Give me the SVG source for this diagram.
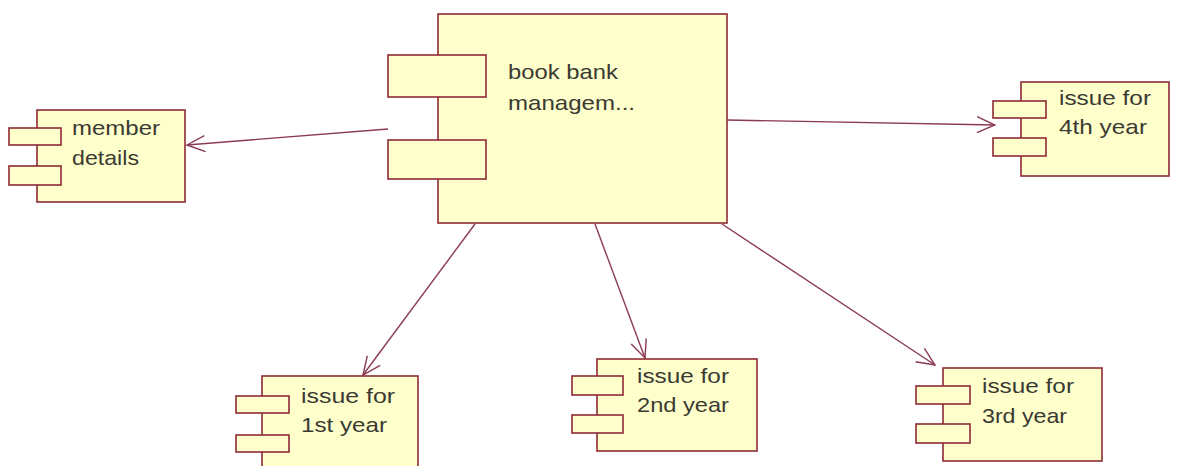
<svg xmlns="http://www.w3.org/2000/svg" width="1180" height="466" viewBox="0 0 1180 466">
  <style>
    .box { fill: #ffffcc; stroke: #8e2a36; stroke-width: 1.6; }
    .port { fill: #ffffcc; stroke: #8e2a36; stroke-width: 1.6; }
    .label { font-family: "Liberation Sans", Arial, sans-serif; font-size: 21px; fill: #3a3a32; }
    .edge { fill: none; stroke: #8a3a52; stroke-width: 1.4; }
    .head { fill: none; stroke: #8a3a52; stroke-width: 1.4; }
  </style>
  <defs>
    <marker id="open-arrow" viewBox="0 0 20 20" refX="19" refY="10" markerWidth="20" markerHeight="20" markerUnits="userSpaceOnUse" orient="auto">
      <path class="head" d="M1,2 L19,10 L1,18"/>
    </marker>
  </defs>
  <rect width="1180" height="466" fill="#ffffff"/>

  <g id="connectors">
    <line class="edge" x1="388" y1="129" x2="187" y2="145" marker-end="url(#open-arrow)"/>
    <line class="edge" x1="727" y1="120" x2="995" y2="125" marker-end="url(#open-arrow)"/>
    <line class="edge" x1="475" y1="224" x2="363" y2="375" marker-end="url(#open-arrow)"/>
    <line class="edge" x1="595" y1="224" x2="645" y2="358" marker-end="url(#open-arrow)"/>
    <line class="edge" x1="722" y1="224" x2="935" y2="365" marker-end="url(#open-arrow)"/>
  </g>

  <g id="book-bank-management">
    <rect class="box" x="438" y="14" width="289" height="209"/>
    <rect class="port" x="388" y="55" width="98" height="42"/>
    <rect class="port" x="388" y="140" width="98" height="39"/>
    <text class="label" x="508" y="79" textLength="110" lengthAdjust="spacingAndGlyphs">book bank</text>
    <text class="label" x="508" y="110" textLength="127" lengthAdjust="spacingAndGlyphs">managem...</text>
  </g>

  <g id="member-details">
    <rect class="box" x="37" y="110" width="148" height="92"/>
    <rect class="port" x="9" y="128" width="52" height="17"/>
    <rect class="port" x="9" y="166" width="52" height="19"/>
    <text class="label" x="72" y="135" textLength="88" lengthAdjust="spacingAndGlyphs">member</text>
    <text class="label" x="72" y="165" textLength="67" lengthAdjust="spacingAndGlyphs">details</text>
  </g>

  <g id="issue-4th-year">
    <rect class="box" x="1021" y="82" width="148" height="94"/>
    <rect class="port" x="993" y="101" width="53" height="17"/>
    <rect class="port" x="993" y="138" width="53" height="18"/>
    <text class="label" x="1059" y="105" textLength="92" lengthAdjust="spacingAndGlyphs">issue for</text>
    <text class="label" x="1059" y="134" textLength="88" lengthAdjust="spacingAndGlyphs">4th year</text>
  </g>

  <g id="issue-1st-year">
    <rect class="box" x="262" y="376" width="156" height="100"/>
    <rect class="port" x="236" y="396" width="53" height="17"/>
    <rect class="port" x="236" y="435" width="53" height="17"/>
    <text class="label" x="301" y="403" textLength="94" lengthAdjust="spacingAndGlyphs">issue for</text>
    <text class="label" x="301" y="432" textLength="86" lengthAdjust="spacingAndGlyphs">1st year</text>
  </g>

  <g id="issue-2nd-year">
    <rect class="box" x="597" y="359" width="160" height="92"/>
    <rect class="port" x="572" y="376" width="51" height="19"/>
    <rect class="port" x="572" y="415" width="51" height="18"/>
    <text class="label" x="637" y="383" textLength="92" lengthAdjust="spacingAndGlyphs">issue for</text>
    <text class="label" x="637" y="412" textLength="92" lengthAdjust="spacingAndGlyphs">2nd year</text>
  </g>

  <g id="issue-3rd-year">
    <rect class="box" x="943" y="368" width="159" height="93"/>
    <rect class="port" x="916" y="386" width="54" height="18"/>
    <rect class="port" x="916" y="424" width="54" height="19"/>
    <text class="label" x="982" y="393" textLength="92" lengthAdjust="spacingAndGlyphs">issue for</text>
    <text class="label" x="982" y="423" textLength="85" lengthAdjust="spacingAndGlyphs">3rd year</text>
  </g>
</svg>
